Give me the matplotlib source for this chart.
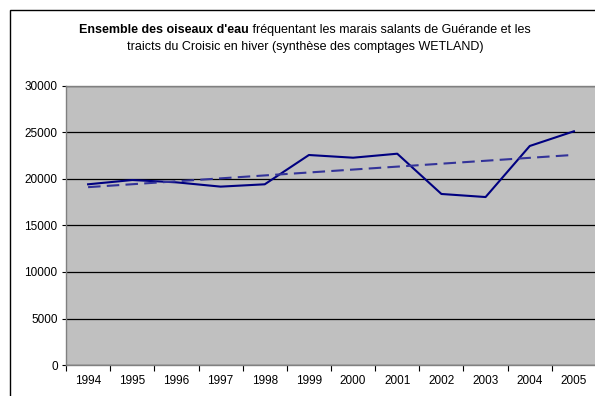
import numpy as np
import matplotlib
matplotlib.use("Agg")
import matplotlib.pyplot as plt
from matplotlib.patches import Rectangle

plt.rcParams['font.family'] = ['Liberation Sans', 'DejaVu Sans']

years = ['1994', '1995', '1996', '1997', '1998', '1999',
         '2000', '2001', '2002', '2003', '2004', '2005']
birds = [19430, 19890, 19640, 19180, 19430, 22580,
         22290, 22720, 18390, 18060, 23550, 25130]

title_bold = "Ensemble des oiseaux d'eau"
title_rest = " fréquentant les marais salants de Guérande et les"
title_line2 = "traicts du Croisic en hiver (synthèse des comptages WETLAND)"

W, H = 595, 396
fig = plt.figure(figsize=(W / 100, H / 100), dpi=100)

# outer chart frame
fig.patches.append(Rectangle((10 / W, -0.1), 1.2, (H - 10) / H + 0.1,
                             transform=fig.transFigure, fill=False,
                             edgecolor='black', linewidth=1.0))

ax = fig.add_axes([66 / W, 31 / H, 530 / W, 279 / H])
ax.set_facecolor('#C0C0C0')

x = np.arange(len(years))
ax.plot(x, birds, color='#000080', linewidth=1.5, zorder=3)

# linear trend
slope, icpt = np.polyfit(x, birds, 1)
ax.plot(x, slope * x + icpt, color='#333399', linewidth=1.5,
        dashes=(6, 3), zorder=3)

ax.set_xlim(-0.5, len(years) - 0.5)
ax.set_ylim(0, 30000)
ax.set_yticks(range(0, 30001, 5000))
ax.set_yticklabels([str(v) for v in range(0, 30001, 5000)], fontsize=8.5)
ax.yaxis.grid(True, color='black', linewidth=0.9)
ax.set_axisbelow(True)

ax.set_xticks(x)
ax.set_xticklabels(years, fontsize=8.5)
ax.set_xticks(np.arange(-0.5, len(years)), minor=True)
ax.tick_params(axis='x', which='major', length=0, pad=7)
ax.tick_params(axis='x', which='minor', length=4, color='black', width=0.8)
ax.tick_params(axis='y', length=3, color='black', width=0.8, pad=3)

for s in ax.spines.values():
    s.set_color('#808080')
    s.set_linewidth(1.0)

# two-part title line: bold lead then regular text, centred together
fig.canvas.draw()
r = fig.canvas.get_renderer()
cx = 305 / W
y1 = 1 - 30 / H
y2 = 1 - 47 / H
tb = fig.text(0, y1, title_bold, fontsize=9, fontweight='bold', va='center')
tr = fig.text(0, y1, title_rest, fontsize=9, va='center')
wb = tb.get_window_extent(r).width / W
wr = tr.get_window_extent(r).width / W
x0 = cx - (wb + wr) / 2
tb.set_x(x0)
tr.set_x(x0 + wb)
fig.text(cx, y2, title_line2, fontsize=9, ha='center', va='center')

fig.savefig('out.png', dpi=100)
